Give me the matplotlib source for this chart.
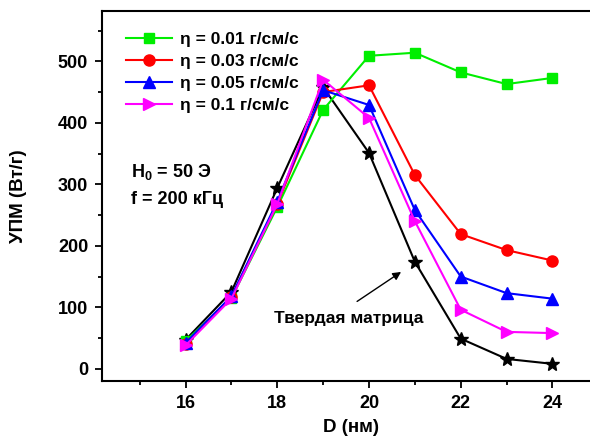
import numpy as np
import matplotlib.pyplot as plt
from matplotlib.ticker import MultipleLocator

plt.rcParams['font.family'] = ['Liberation Sans', 'DejaVu Sans']
plt.rcParams['font.weight'] = 'bold'

d = [16, 17, 18, 19, 20, 21, 22, 23, 24]
upm_001 = [45, 115, 263, 421, 509, 514, 482, 463, 473]
upm_003 = [40, 117, 268, 450, 461, 315, 219, 193, 176]
upm_005 = [42, 118, 272, 453, 429, 258, 150, 123, 114]
upm_01 = [38, 114, 268, 470, 408, 240, 96, 60, 58]
upm_solid = [47, 125, 294, 458, 351, 174, 49, 16, 8]

labels = ['η = 0.01 г/см/с', 'η = 0.03 г/см/с', 'η = 0.05 г/см/с', 'η = 0.1 г/см/с']

fig = plt.figure(figsize=(5.9, 4.36), dpi=100)
ax = fig.add_axes([0.173, 0.126, 0.845, 0.849])

ax.plot(d, upm_solid, color='black', marker='*', ms=10, lw=1.5)
ax.plot(d, upm_001, color='#00ee00', marker='s', ms=7, lw=1.5, label=labels[0])
ax.plot(d, upm_003, color='red', marker='o', ms=8, lw=1.5, label=labels[1])
ax.plot(d, upm_005, color='blue', marker='^', ms=8, lw=1.5, label=labels[2])
ax.plot(d, upm_01, color='magenta', marker='>', ms=8, lw=1.5, label=labels[3])

ax.set_xlim(14.18, 25.05)
ax.set_ylim(-20, 582)
ax.xaxis.set_major_locator(MultipleLocator(2))
ax.xaxis.set_minor_locator(MultipleLocator(1))
ax.yaxis.set_major_locator(MultipleLocator(100))
ax.yaxis.set_minor_locator(MultipleLocator(50))
ax.tick_params(which='both', direction='out', width=1.3, labelsize=13)
ax.tick_params(which='major', length=5, pad=5)
ax.tick_params(which='minor', length=3)
for s in ax.spines.values():
    s.set_linewidth(1.5)

ax.set_xlabel('D (нм)', fontsize=13.5, fontweight='bold', labelpad=5)
ax.set_ylabel('УПМ (Вт/г)', fontsize=13.5, fontweight='bold', labelpad=22)

ax.legend(loc='upper left', bbox_to_anchor=(0.035, 0.962), frameon=False,
          fontsize=12.5, handlelength=2.6, handletextpad=0.5, labelspacing=0.4,
          borderaxespad=0)

ax.text(14.82, 320, 'H$_\\mathregular{0}$ = 50 Э', fontsize=13, fontweight='bold', va='center')
ax.text(14.82, 276, 'f = 200 кГц', fontsize=13, fontweight='bold', va='center')

ax.annotate('', xy=(20.75, 160), xytext=(19.69, 107),
            arrowprops=dict(arrowstyle='-|>', color='black', lw=1, mutation_scale=12))
ax.text(19.56, 81, 'Твердая матрица', fontsize=12.5, fontweight='bold', ha='center', va='center')

plt.savefig('out.png', dpi=100)
